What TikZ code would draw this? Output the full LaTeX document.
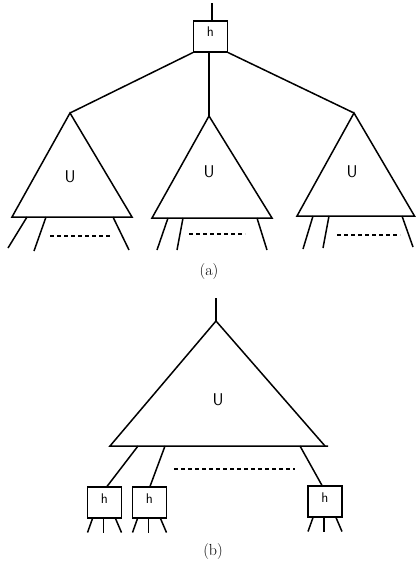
\documentclass[tikz,border=0pt]{standalone}
\usetikzlibrary{calc}
\begin{document}
\begin{tikzpicture}[x=1pt,y=-1pt,line width=1.5pt,
		hbox/.style={draw,line width=1.1pt,minimum width=34pt,minimum height=31pt,inner sep=0pt},
		hlabel/.style={font=\sffamily\fontsize{14}{14}\selectfont},
		ulabel/.style={font=\sffamily\fontsize{17}{17}\selectfont},
		dots/.style={line width=1.3pt,dash pattern=on 4pt off 3pt},
		caption/.style={font=\fontsize{16}{16}\selectfont}]
		\useasboundingbox (0,0) rectangle (416,562);
		% (a)
		\node[hbox] (h) at (210.5,36.5) {};
		\node[hlabel] (hl) at (210.5,32) {h};
		\coordinate (top) at (212,3);
		\draw (top)--(h.north-|top);
		\coordinate (A1) at (70,113);
		\coordinate (A2) at (209,116);
		\coordinate (A3) at (354,113);
		\draw (h.south west)--(A1);
		\draw (h.south-|A2)--(A2);
		\draw (h.south east)--(A3);
		% gauche
		\draw (A1)--(12,217)--(132,217)--cycle;
		\draw (27,217)--(8,248);
		\draw (46,217)--(34,251);
		\draw (113,217)--(129,250);
		\draw[dots] (50,236)--(110,236);
		\node[ulabel] (U1) at (70,177) {U};
		% milieu
		\draw (A2)--(152,218)--(272,218)--cycle;
		\draw (168,218)--(157,250);
		\draw (183,218)--(177,250);
		\draw (257,218)--(267,250);
		\draw[dots] (189,234)--(245,234);
		\node[ulabel] (U2) at (209,172) {U};
		% droite
		\draw (A3)--(297,216)--(414.5,216)--cycle;
		\draw (313,216)--(303,249);
		\draw (329,216)--(323,248);
		\draw (402,216)--(413,247);
		\draw[dots] (337,235)--(400,235);
		\node[ulabel] (U3) at (352,172) {U};
		\node[caption] (ca) at (209,272) {(a)};
		% (b)
		\coordinate (B) at (216,321);
		\coordinate (Btop) at (216,298);
		\draw (Btop)--(B);
		\draw (B)--(110,446)--(328,446);
		\draw (B)--(325,446);
		\node[ulabel] (U4) at (218,400) {U};
		\node[hbox] (b1) at (104.5,502.5) {};
		\node[hbox] (b2) at (149.5,502.5) {};
		\node[hbox] (b3) at (325,501.5) {};
		\draw (138,446)--(b1.north-|107,0);
		\draw (165,446)--(b2.north-|150,0);
		\draw (300,446)--(b3.north-|322,0);
		\draw[dots] (174,469)--(295,469);
		\foreach \b in {b1,b2,b3}{
			\node[hlabel] (\b l) at ($(\b)+(0,-4)$) {h};
			\draw ($(\b.south)+(-12,0)$)--($(\b.south)+(-17,14)$);
			\draw ($(\b.south)+(-1,0)$)--($(\b.south)+(-1,14)$);
			\draw ($(\b.south)+(11,0)$)--($(\b.south)+(17,14)$);
		}
		\node[caption] (cb) at (213,552) {(b)};
	\end{tikzpicture}
\end{document}
